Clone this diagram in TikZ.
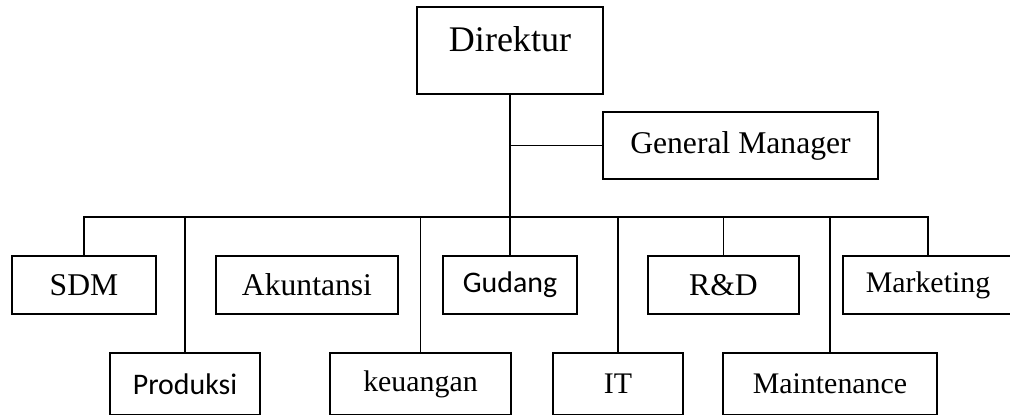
\documentclass[tikz,border=0pt]{standalone}
\usepackage{fontspec}
\setmainfont{Liberation Serif}
\newfontfamily\calfont{Carlito}
\begin{document}
\begin{tikzpicture}[
  unit/.style={draw,line width=1.1pt,inner sep=0pt,minimum height=1.16cm,font=\fontsize{18}{21}\selectfont},
  link/.style={line width=1pt}]
\useasboundingbox (0,0) rectangle (20.2,8.28);
% top
\node[draw,line width=1.1pt,inner xsep=0pt,inner ysep=0pt,minimum width=3.72cm,text height=0.9cm,text depth=0.84cm,font=\fontsize{20.5}{24}\selectfont] (dir) at (10.2,7.27) {Direktur};
\node[unit,minimum width=5.5cm,minimum height=1.34cm] (gm) at (14.81,5.37) {General Manager};
% first row
\node[unit,minimum width=2.88cm] (sdm) at (1.68,2.58) {SDM};
\node[unit,minimum width=3.64cm] (akt) at (6.14,2.58) {Akuntansi};
\node[unit,minimum width=2.68cm,font=\calfont\fontsize{17}{20}\selectfont] (gdg) at (10.2,2.58) {Gudang};
\node[unit,minimum width=3.02cm] (rnd) at (14.47,2.58) {R\&D};
\node[unit,minimum width=3.4cm,font=\fontsize{17}{20}\selectfont] (mkt) at (18.56,2.58) {Marketing};
% second row
\node[unit,minimum width=3.0cm,minimum height=1.24cm,font=\calfont\fontsize{17}{20}\selectfont] (prd) at (3.7,0.6) {Produksi};
\node[unit,minimum width=3.62cm,minimum height=1.24cm,font=\fontsize{17}{20}\selectfont] (keu) at (8.41,0.6) {keuangan};
\node[unit,minimum width=2.6cm,minimum height=1.24cm,font=\fontsize{17}{20}\selectfont] (it) at (12.36,0.6) {IT};
\node[unit,minimum width=4.28cm,minimum height=1.24cm,font=\fontsize{17}{20}\selectfont] (mnt) at (16.6,0.6) {Maintenance};
\coordinate (bus) at (10.2,3.94);
\draw[link] (dir.south) -- (gdg.north);
\draw[link] (gm.west) -- (gm.west -| dir.south);
\draw[link] (sdm.north) -- (sdm.north |- bus) -- (mkt.north |- bus) -- (mkt.north);
\foreach \n in {rnd,prd,keu,it,mnt} \draw[link] (\n.north) -- (\n.north |- bus);
\end{tikzpicture}
\end{document}
